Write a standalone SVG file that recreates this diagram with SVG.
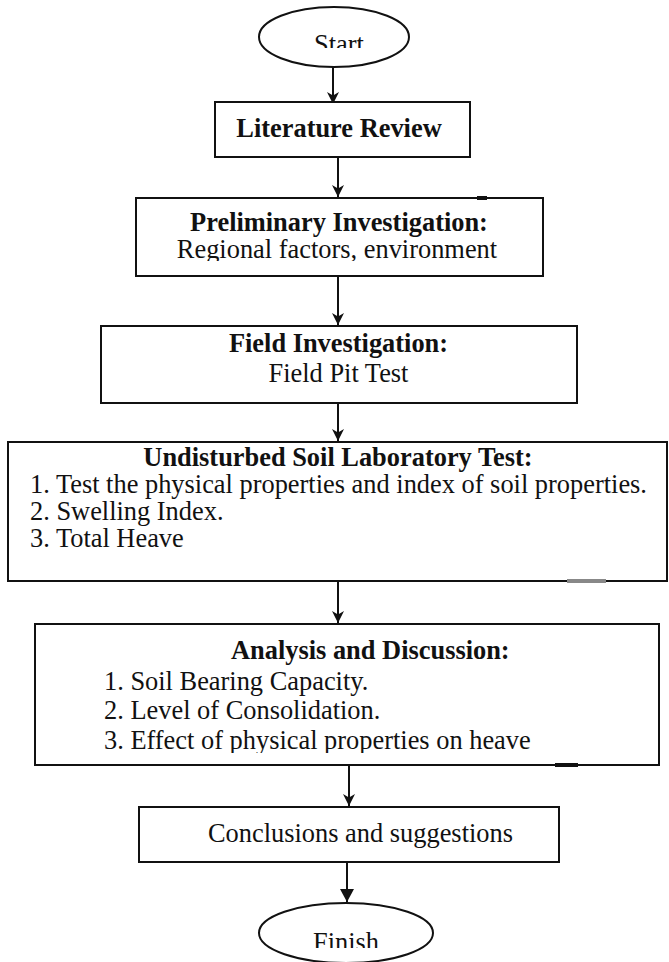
<svg xmlns="http://www.w3.org/2000/svg" width="669" height="962" viewBox="0 0 669 962">
<style>
.box{fill:#fff;stroke:#111;stroke-width:2}
.t{font-family:"Liberation Serif","Times New Roman",serif;font-size:26.4px;fill:#111}
.b{font-weight:bold}
.c{text-anchor:middle}
.conn{stroke:#111;stroke-width:2;fill:none;marker-end:url(#ah)}
.conn2{stroke:#111;stroke-width:2;fill:none;marker-end:url(#ah2)}
</style>
<defs>
<marker id="ah" markerUnits="userSpaceOnUse" markerWidth="14" markerHeight="14" refX="12" refY="6" orient="auto">
<path d="M0,0 L12,6 L0,12 L3.5,6 z" fill="#111"/>
</marker>
<marker id="ah2" markerUnits="userSpaceOnUse" markerWidth="16" markerHeight="16" refX="13" refY="7" orient="auto">
<path d="M0,0 L13,7 L0,14 z" fill="#111"/>
</marker>
<clipPath id="cStart"><rect x="250" y="0" width="170" height="48"/></clipPath>
<clipPath id="cFin"><rect x="250" y="900" width="200" height="48"/></clipPath>
<clipPath id="cPre"><rect x="136" y="198" width="407" height="63"/></clipPath>
<clipPath id="cAna"><rect x="35" y="624" width="624" height="129"/></clipPath>
</defs>
<g id="connectors">
<line class="conn" x1="333" y1="67" x2="333" y2="104"/>
<line class="conn" x1="338" y1="157" x2="338" y2="197"/>
<line class="conn" x1="338" y1="276" x2="338" y2="325"/>
<line class="conn" x1="338" y1="403" x2="338" y2="441"/>
<line class="conn" x1="338" y1="581" x2="338" y2="623"/>
<line class="conn" x1="349" y1="765" x2="349" y2="806"/>
<line class="conn2" x1="347" y1="862" x2="347" y2="902"/>
</g>
<g id="start">
<ellipse cx="334" cy="37" rx="75" ry="30" fill="#fff" stroke="#111" stroke-width="2"/>
<text class="t c" x="339" y="53" clip-path="url(#cStart)">Start</text>
</g>
<g id="literature">
<rect class="box" x="215" y="102" width="255" height="55"/>
<text class="t b c" x="339" y="137">Literature Review</text>
</g>
<g id="preliminary">
<rect class="box" x="136" y="198" width="407" height="78"/>
<line x1="477" y1="198" x2="487" y2="198" stroke="#111" stroke-width="4"/>
<text class="t b c" x="339" y="231">Preliminary Investigation:</text>
<text class="t c" x="337" y="258" clip-path="url(#cPre)">Regional factors, environment</text>
</g>
<g id="field">
<rect class="box" x="101" y="326" width="476" height="77"/>
<text class="t b c" x="338.5" y="352">Field Investigation:</text>
<text class="t c" x="338.5" y="382">Field Pit Test</text>
</g>
<g id="laboratory">
<rect class="box" x="8" y="442" width="659" height="139"/>
<line x1="567" y1="581" x2="606" y2="581" stroke="#888" stroke-width="4"/>
<text class="t b c" x="338" y="466">Undisturbed Soil Laboratory Test:</text>
<text class="t" x="30" y="493">1. Test the physical properties and index of soil properties.</text>
<text class="t" x="30" y="520">2. Swelling Index.</text>
<text class="t" x="30" y="547">3. Total Heave</text>
</g>
<g id="analysis">
<rect class="box" x="35" y="624" width="624" height="141"/>
<line x1="555" y1="765" x2="578" y2="765" stroke="#111" stroke-width="4"/>
<text class="t b" x="231" y="659">Analysis and Discussion:</text>
<text class="t" x="104" y="690">1. Soil Bearing Capacity.</text>
<text class="t" x="104" y="719">2. Level of Consolidation.</text>
<text class="t" x="104" y="749" clip-path="url(#cAna)">3. Effect of physical properties on heave</text>
</g>
<g id="conclusions">
<rect class="box" x="139" y="807" width="420" height="55"/>
<text class="t" x="208" y="842">Conclusions and suggestions</text>
</g>
<g id="finish">
<ellipse cx="346" cy="933" rx="87" ry="30" fill="#fff" stroke="#111" stroke-width="2"/>
<text class="t c" x="346" y="951" clip-path="url(#cFin)">Finish</text>
</g>
</svg>
